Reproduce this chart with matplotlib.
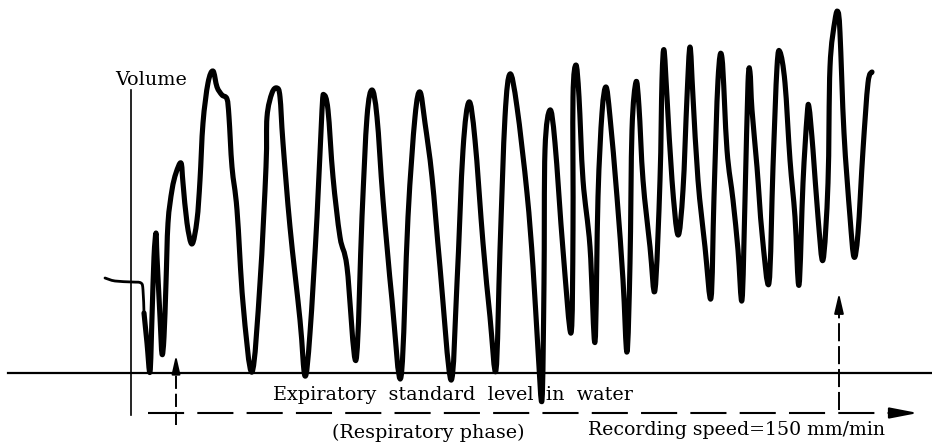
import matplotlib
matplotlib.use('Agg')
import matplotlib.pyplot as plt
from matplotlib.path import Path
from matplotlib.patches import PathPatch

plt.rcParams['font.family'] = ['DejaVu Serif']
plt.rcParams['lines.scale_dashes'] = False

# spirogram trace (x = time axis, y = pen position, image units, y downwards)
lead_x = [105, 115, 132, 141, 143, 144]
lead_y = [278, 281, 282, 283, 290, 313]

trace_x = [144, 147, 150, 152, 154, 156, 157, 160, 162, 164, 166, 168, 172, 176, 181,
           183, 187, 192, 197, 200, 203, 208, 213, 217, 222, 227, 229, 232, 237, 243,
           252, 260, 266, 267, 272, 277, 280, 283, 290, 300, 305, 310, 317, 322, 324,
           328, 333, 340, 347, 356, 362, 367, 372, 377, 383, 392, 401, 408, 415, 420,
           425, 432, 440, 451, 457, 463, 469, 475, 483, 490, 496, 500, 505, 510, 517,
           527, 533, 538, 542, 544, 545, 550, 555, 563, 571, 573, 573, 576, 579, 583,
           590, 595, 598, 602, 606, 610, 617, 623, 627, 630, 632, 636, 639, 643, 650,
           655, 660, 662, 664, 667, 672, 678, 683, 687, 690, 693, 698, 705, 711, 714,
           718, 722, 727, 733, 738, 742, 745, 748, 750, 752, 757, 762, 769, 773, 777,
           780, 785, 790, 795, 799, 803, 807, 809, 813, 818, 823, 828, 830, 835, 838,
           840, 844, 850, 854, 858, 863, 868, 872]
trace_y = [313, 343, 372, 317, 257, 233, 257, 317, 354, 337, 283, 223, 190, 173, 163,
           183, 223, 244, 220, 180, 123, 83, 71, 87, 95, 99, 117, 167, 210, 303,
           372, 283, 167, 117, 93, 88, 97, 143, 227, 320, 376, 333, 217, 110, 95,
           110, 177, 237, 267, 360, 217, 117, 90, 117, 200, 300, 377, 217, 117, 92,
           123, 177, 267, 380, 283, 150, 102, 140, 243, 317, 370, 250, 117, 74, 107,
           193, 267, 350, 400, 283, 150, 110, 143, 250, 333, 230, 97, 65, 97, 180,
           247, 342, 197, 113, 87, 117, 197, 280, 352, 263, 130, 82, 107, 180, 247,
           290, 180, 80, 50, 97, 180, 235, 190, 97, 47, 97, 180, 247, 298, 197,
           80, 58, 150, 200, 250, 300, 200, 83, 72, 110, 167, 233, 283, 167, 67,
           52, 83, 160, 217, 285, 183, 117, 107, 150, 217, 260, 183, 67, 20, 12,
           33, 133, 217, 257, 233, 150, 83, 72]

baseline_y = 373
axis_x = 131
phase_y = 413
start_mark_x = 176
end_mark_x = 839


def smooth_path(xs, ys):
    # pen stroke through the read points (cubic segments, catmull-rom style)
    pts = list(zip(xs, ys))
    verts = [pts[0]]
    codes = [Path.MOVETO]
    n = len(pts)
    for i in range(n - 1):
        p0 = pts[max(i - 1, 0)]
        p1 = pts[i]
        p2 = pts[i + 1]
        p3 = pts[min(i + 2, n - 1)]
        c1 = (p1[0] + (p2[0] - p0[0]) / 6, p1[1] + (p2[1] - p0[1]) / 6)
        c2 = (p2[0] - (p3[0] - p1[0]) / 6, p2[1] - (p3[1] - p1[1]) / 6)
        verts += [c1, c2, p2]
        codes += [Path.CURVE4] * 3
    return Path(verts, codes)


fig = plt.figure(figsize=(9.32, 4.45), dpi=100)
ax = fig.add_axes([0, 0, 1, 1])
ax.set_xlim(0, 932)
ax.set_ylim(445, 0)
ax.axis('off')

# reference lines
ax.plot([8, 932], [baseline_y, baseline_y], color='black', lw=1.6)
ax.plot([axis_x, axis_x], [90, 415], color='black', lw=1.2)

# trace
ax.add_patch(PathPatch(smooth_path(lead_x, lead_y), fill=False, edgecolor='black', lw=2.0,
                       joinstyle='round', capstyle='round'))
ax.add_patch(PathPatch(smooth_path(trace_x, trace_y), fill=False, edgecolor='black', lw=3.7,
                       joinstyle='round', capstyle='round'))

# respiratory phase axis (dashed, with arrow)
ax.plot([148, 897], [phase_y, phase_y], color='black', lw=1.5, dashes=(26, 9.5))
ax.annotate('', xy=(918, phase_y), xytext=(893, phase_y),
            arrowprops=dict(arrowstyle='-|>,head_length=1.7,head_width=0.33',
                            mutation_scale=10, color='black', lw=1.5, shrinkA=0, shrinkB=0))

# start / end markers
ax.plot([start_mark_x, start_mark_x], [425, 368], color='black', lw=1.4, dashes=(9.5, 3.5))
ax.annotate('', xy=(start_mark_x, 355), xytext=(start_mark_x, 370),
            arrowprops=dict(arrowstyle='-|>,head_length=1.1,head_width=0.25',
                            mutation_scale=10, color='black', lw=1.4, shrinkA=0, shrinkB=0))
ax.plot([end_mark_x, end_mark_x], [410, 305], color='black', lw=1.4, dashes=(13, 3.5))
ax.annotate('', xy=(end_mark_x, 293), xytext=(end_mark_x, 310),
            arrowprops=dict(arrowstyle='-|>,head_length=1.2,head_width=0.28',
                            mutation_scale=10, color='black', lw=1.4, shrinkA=0, shrinkB=0))

# labels
ax.text(115, 85, 'Volume', fontsize=13.8, va='baseline', ha='left')
ax.text(273, 400, 'Expiratory  standard  level  in  water', fontsize=13.8, va='baseline', ha='left')
ax.text(332, 438, '(Respiratory phase)', fontsize=13.8, va='baseline', ha='left')
ax.text(588, 435, 'Recording speed=150 mm/min', fontsize=13.6, va='baseline', ha='left')

fig.savefig('out.png', dpi=100)
